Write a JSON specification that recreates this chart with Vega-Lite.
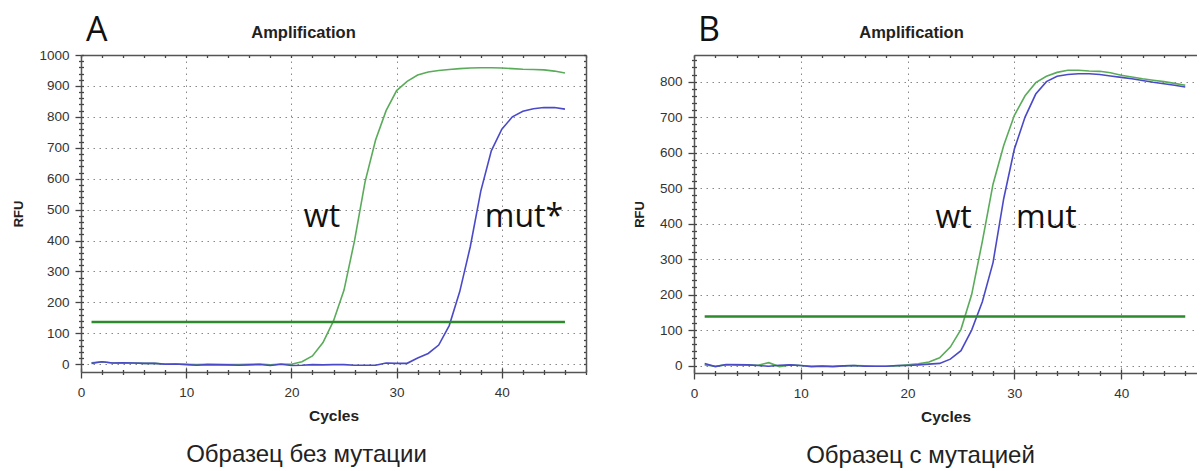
{
  "$schema": "https://vega.github.io/schema/vega-lite/v6.json",
  "background": "white",
  "padding": {"left": 12, "top": 14, "right": 0, "bottom": 0},
  "config": {"view": {"stroke": null}, "font": "Liberation Sans"},
  "spacing": 46,
  "datasets": {
    "curvesA": [
      {"sample":"wt","cycle":1,"rfu":5},{"sample":"wt","cycle":2,"rfu":8},{"sample":"wt","cycle":3,"rfu":4},{"sample":"wt","cycle":4,"rfu":4},{"sample":"wt","cycle":5,"rfu":4},{"sample":"wt","cycle":6,"rfu":3},{"sample":"wt","cycle":7,"rfu":3},{"sample":"wt","cycle":8,"rfu":1},{"sample":"wt","cycle":9,"rfu":1},{"sample":"wt","cycle":10,"rfu":0},
      {"sample":"wt","cycle":11,"rfu":-1},{"sample":"wt","cycle":12,"rfu":0},{"sample":"wt","cycle":13,"rfu":0},{"sample":"wt","cycle":14,"rfu":-1},{"sample":"wt","cycle":15,"rfu":-1},{"sample":"wt","cycle":16,"rfu":0},{"sample":"wt","cycle":17,"rfu":1},{"sample":"wt","cycle":18,"rfu":-2},{"sample":"wt","cycle":19,"rfu":1},{"sample":"wt","cycle":20,"rfu":0},
      {"sample":"wt","cycle":21,"rfu":8},{"sample":"wt","cycle":22,"rfu":27},{"sample":"wt","cycle":23,"rfu":70},{"sample":"wt","cycle":24,"rfu":140},{"sample":"wt","cycle":25,"rfu":240},{"sample":"wt","cycle":26,"rfu":400},{"sample":"wt","cycle":27,"rfu":590},{"sample":"wt","cycle":28,"rfu":725},{"sample":"wt","cycle":29,"rfu":820},{"sample":"wt","cycle":30,"rfu":885},
      {"sample":"wt","cycle":31,"rfu":915},{"sample":"wt","cycle":32,"rfu":935},{"sample":"wt","cycle":33,"rfu":945},{"sample":"wt","cycle":34,"rfu":950},{"sample":"wt","cycle":35,"rfu":953},{"sample":"wt","cycle":36,"rfu":956},{"sample":"wt","cycle":37,"rfu":958},{"sample":"wt","cycle":38,"rfu":959},{"sample":"wt","cycle":39,"rfu":959},{"sample":"wt","cycle":40,"rfu":958},
      {"sample":"wt","cycle":41,"rfu":956},{"sample":"wt","cycle":42,"rfu":954},{"sample":"wt","cycle":43,"rfu":953},{"sample":"wt","cycle":44,"rfu":952},{"sample":"wt","cycle":45,"rfu":948},{"sample":"wt","cycle":46,"rfu":942},
      {"sample":"mut","cycle":1,"rfu":3},{"sample":"mut","cycle":2,"rfu":8},{"sample":"mut","cycle":3,"rfu":4},{"sample":"mut","cycle":4,"rfu":5},{"sample":"mut","cycle":5,"rfu":4},{"sample":"mut","cycle":6,"rfu":3},{"sample":"mut","cycle":7,"rfu":3},{"sample":"mut","cycle":8,"rfu":0},{"sample":"mut","cycle":9,"rfu":1},{"sample":"mut","cycle":10,"rfu":-1},
      {"sample":"mut","cycle":11,"rfu":-3},{"sample":"mut","cycle":12,"rfu":-1},{"sample":"mut","cycle":13,"rfu":-2},{"sample":"mut","cycle":14,"rfu":-2},{"sample":"mut","cycle":15,"rfu":-3},{"sample":"mut","cycle":16,"rfu":-2},{"sample":"mut","cycle":17,"rfu":-1},{"sample":"mut","cycle":18,"rfu":-4},{"sample":"mut","cycle":19,"rfu":0},{"sample":"mut","cycle":20,"rfu":-4},
      {"sample":"mut","cycle":21,"rfu":-3},{"sample":"mut","cycle":22,"rfu":-1},{"sample":"mut","cycle":23,"rfu":-2},{"sample":"mut","cycle":24,"rfu":-1},{"sample":"mut","cycle":25,"rfu":-1},{"sample":"mut","cycle":26,"rfu":-3},{"sample":"mut","cycle":27,"rfu":-3},{"sample":"mut","cycle":28,"rfu":-3},{"sample":"mut","cycle":29,"rfu":4},{"sample":"mut","cycle":30,"rfu":3},
      {"sample":"mut","cycle":31,"rfu":3},{"sample":"mut","cycle":32,"rfu":20},{"sample":"mut","cycle":33,"rfu":35},{"sample":"mut","cycle":34,"rfu":62},{"sample":"mut","cycle":35,"rfu":125},{"sample":"mut","cycle":36,"rfu":235},{"sample":"mut","cycle":37,"rfu":380},{"sample":"mut","cycle":38,"rfu":560},{"sample":"mut","cycle":39,"rfu":690},{"sample":"mut","cycle":40,"rfu":760},
      {"sample":"mut","cycle":41,"rfu":800},{"sample":"mut","cycle":42,"rfu":818},{"sample":"mut","cycle":43,"rfu":826},{"sample":"mut","cycle":44,"rfu":830},{"sample":"mut","cycle":45,"rfu":830},{"sample":"mut","cycle":46,"rfu":825}
    ],
    "curvesB": [
      {"sample":"wt","cycle":1,"rfu":2},{"sample":"wt","cycle":2,"rfu":-2},{"sample":"wt","cycle":3,"rfu":2},{"sample":"wt","cycle":4,"rfu":3},{"sample":"wt","cycle":5,"rfu":2},{"sample":"wt","cycle":6,"rfu":1},{"sample":"wt","cycle":7,"rfu":8},{"sample":"wt","cycle":8,"rfu":-3},{"sample":"wt","cycle":9,"rfu":2},{"sample":"wt","cycle":10,"rfu":0},
      {"sample":"wt","cycle":11,"rfu":-2},{"sample":"wt","cycle":12,"rfu":-1},{"sample":"wt","cycle":13,"rfu":-2},{"sample":"wt","cycle":14,"rfu":-1},{"sample":"wt","cycle":15,"rfu":0},{"sample":"wt","cycle":16,"rfu":-1},{"sample":"wt","cycle":17,"rfu":-2},{"sample":"wt","cycle":18,"rfu":-2},{"sample":"wt","cycle":19,"rfu":-1},{"sample":"wt","cycle":20,"rfu":2},
      {"sample":"wt","cycle":21,"rfu":5},{"sample":"wt","cycle":22,"rfu":10},{"sample":"wt","cycle":23,"rfu":22},{"sample":"wt","cycle":24,"rfu":52},{"sample":"wt","cycle":25,"rfu":102},{"sample":"wt","cycle":26,"rfu":200},{"sample":"wt","cycle":27,"rfu":350},{"sample":"wt","cycle":28,"rfu":511},{"sample":"wt","cycle":29,"rfu":620},{"sample":"wt","cycle":30,"rfu":705},
      {"sample":"wt","cycle":31,"rfu":760},{"sample":"wt","cycle":32,"rfu":797},{"sample":"wt","cycle":33,"rfu":815},{"sample":"wt","cycle":34,"rfu":826},{"sample":"wt","cycle":35,"rfu":832},{"sample":"wt","cycle":36,"rfu":832},{"sample":"wt","cycle":37,"rfu":830},{"sample":"wt","cycle":38,"rfu":829},{"sample":"wt","cycle":39,"rfu":825},{"sample":"wt","cycle":40,"rfu":818},
      {"sample":"wt","cycle":41,"rfu":813},{"sample":"wt","cycle":42,"rfu":808},{"sample":"wt","cycle":43,"rfu":804},{"sample":"wt","cycle":44,"rfu":800},{"sample":"wt","cycle":45,"rfu":795},{"sample":"wt","cycle":46,"rfu":790},
      {"sample":"mut","cycle":1,"rfu":6},{"sample":"mut","cycle":2,"rfu":-3},{"sample":"mut","cycle":3,"rfu":3},{"sample":"mut","cycle":4,"rfu":2},{"sample":"mut","cycle":5,"rfu":2},{"sample":"mut","cycle":6,"rfu":0},{"sample":"mut","cycle":7,"rfu":-2},{"sample":"mut","cycle":8,"rfu":1},{"sample":"mut","cycle":9,"rfu":2},{"sample":"mut","cycle":10,"rfu":0},
      {"sample":"mut","cycle":11,"rfu":-3},{"sample":"mut","cycle":12,"rfu":-2},{"sample":"mut","cycle":13,"rfu":-3},{"sample":"mut","cycle":14,"rfu":-1},{"sample":"mut","cycle":15,"rfu":0},{"sample":"mut","cycle":16,"rfu":-2},{"sample":"mut","cycle":17,"rfu":-2},{"sample":"mut","cycle":18,"rfu":-2},{"sample":"mut","cycle":19,"rfu":0},{"sample":"mut","cycle":20,"rfu":0},
      {"sample":"mut","cycle":21,"rfu":2},{"sample":"mut","cycle":22,"rfu":4},{"sample":"mut","cycle":23,"rfu":6},{"sample":"mut","cycle":24,"rfu":18},{"sample":"mut","cycle":25,"rfu":42},{"sample":"mut","cycle":26,"rfu":100},{"sample":"mut","cycle":27,"rfu":180},{"sample":"mut","cycle":28,"rfu":290},{"sample":"mut","cycle":29,"rfu":470},{"sample":"mut","cycle":30,"rfu":610},
      {"sample":"mut","cycle":31,"rfu":700},{"sample":"mut","cycle":32,"rfu":765},{"sample":"mut","cycle":33,"rfu":800},{"sample":"mut","cycle":34,"rfu":815},{"sample":"mut","cycle":35,"rfu":820},{"sample":"mut","cycle":36,"rfu":822},{"sample":"mut","cycle":37,"rfu":822},{"sample":"mut","cycle":38,"rfu":820},{"sample":"mut","cycle":39,"rfu":816},{"sample":"mut","cycle":40,"rfu":812},
      {"sample":"mut","cycle":41,"rfu":808},{"sample":"mut","cycle":42,"rfu":803},{"sample":"mut","cycle":43,"rfu":798},{"sample":"mut","cycle":44,"rfu":794},{"sample":"mut","cycle":45,"rfu":790},{"sample":"mut","cycle":46,"rfu":785}
    ],
    "thrA": [{"start": 1, "end": 46, "threshold": 137}],
    "thrB": [{"start": 1, "end": 46, "threshold": 138}],
    "labelsA": [{"label": "wt", "x": 22.9, "y": 475}, {"label": "mut*", "x": 42.1, "y": 475}],
    "labelsB": [{"label": "wt", "x": 24.3, "y": 416}, {"label": "mut", "x": 33.0, "y": 416}]
  },
  "hconcat": [
    {
      "width": 505,
      "height": 317,
      "title": {"text": "A", "anchor": "start", "frame": "group", "font": "Open Sans", "fontSize": 34, "fontWeight": "normal", "color": "#111", "dx": 5, "dy": 24, "offset": 0},
      "resolve": {"axis": {"x": "independent", "y": "independent"}},
      "layer": [
        {
          "data": {"name": "curvesA"},
          "mark": {"type": "line", "strokeWidth": 1.6, "clip": true},
          "encoding": {
            "x": {"field": "cycle", "type": "quantitative", "scale": {"domain": [0, 48], "nice": false, "zero": false},
              "axis": {"orient": "bottom", "values": [0,2,4,6,8,10,12,14,16,18,20,22,24,26,28,30,32,34,36,38,40,42,44,46,48],
                "domain": true, "domainColor": "#555", "domainWidth": 1.5,
                "tickColor": "#444", "tickWidth": 1.3,
                "tickSize": {"condition": {"test": "datum.value % 10 === 0", "value": 6}, "value": 2.5},
                "format": "d", "labelExpr": "datum.value % 10 === 0 ? datum.label : ''", "labelFlush": false, "labelOverlap": false,
                "labelFont": "Liberation Sans", "labelFontSize": 13.5, "labelColor": "#333", "labelPadding": 7,
                "grid": true, "gridColor": "#888", "gridDash": [1.5, 4.5], "gridWidth": 1,
                "gridOpacity": {"condition": {"test": "datum.value % 10 === 0 && datum.value > 0 && datum.value < 48", "value": 1}, "value": 0},
                "title": "Cycles", "titleFont": "Liberation Sans", "titleFontSize": 15.5, "titleFontWeight": "bold", "titleColor": "#222", "titlePadding": 10}},
            "y": {"field": "rfu", "type": "quantitative", "scale": {"domain": [-25, 1000], "nice": false, "zero": false},
              "axis": {"orient": "left", "values": [0,20,40,60,80,100,120,140,160,180,200,220,240,260,280,300,320,340,360,380,400,420,440,460,480,500,520,540,560,580,600,620,640,660,680,700,720,740,760,780,800,820,840,860,880,900,920,940,960,980,1000],
                "domain": true, "domainColor": "#555", "domainWidth": 1.5,
                "tickColor": "#444", "tickWidth": 1.3,
                "tickSize": {"condition": {"test": "datum.value % 100 === 0", "value": 6}, "value": 2.5},
                "format": "d", "labelExpr": "datum.value % 100 === 0 ? datum.label : ''", "labelOverlap": false, "labelFlush": false,
                "labelFont": "Liberation Sans", "labelFontSize": 13.5, "labelColor": "#333", "labelPadding": 6,
                "grid": true, "gridColor": "#888", "gridDash": [1.5, 4.5], "gridWidth": 1,
                "gridOpacity": {"condition": {"test": "datum.value % 100 === 0 && datum.value < 1000", "value": 1}, "value": 0},
                "title": "RFU", "titleFont": "Liberation Sans", "titleFontSize": 13, "titleFontWeight": "bold", "titleColor": "#222", "titlePadding": 13}},
            "color": {"field": "sample", "type": "nominal", "scale": {"domain": ["wt", "mut"], "range": ["#5aab5a", "#4a4ac8"]}, "legend": null}
          }
        },
        {
          "data": {"name": "thrA"},
          "mark": {"type": "rule", "color": "#2d8a2d", "strokeWidth": 2.5},
          "encoding": {
            "x": {"field": "start", "type": "quantitative", "scale": {"domain": [0, 48], "nice": false, "zero": false},
              "axis": {"orient": "bottom", "values": [0,2,4,6,8,10,12,14,16,18,20,22,24,26,28,30,32,34,36,38,40,42,44,46,48],
                "domain": false, "labels": false, "grid": false, "tickColor": "#444", "tickWidth": 1.3,
                "tickSize": {"condition": {"test": "datum.value % 10 === 0", "value": -4}, "value": -2.5},
                "title": "Образец без мутации", "titleFont": "Liberation Sans", "titleFontSize": 24, "titleFontWeight": "normal", "titleColor": "#222", "titlePadding": 70, "titleX": 225}},
            "x2": {"field": "end"},
            "y": {"field": "threshold", "type": "quantitative", "scale": {"domain": [-25, 1000], "nice": false, "zero": false},
              "axis": {"orient": "left", "values": [0,20,40,60,80,100,120,140,160,180,200,220,240,260,280,300,320,340,360,380,400,420,440,460,480,500,520,540,560,580,600,620,640,660,680,700,720,740,760,780,800,820,840,860,880,900,920,940,960,980,1000],
                "domain": false, "labels": false, "grid": false, "tickColor": "#444", "tickWidth": 1.3,
                "tickSize": -2.5, "title": null}}
          }
        },
        {
          "data": {"name": "labelsA"},
          "mark": {"type": "text", "font": "Open Sans", "fontSize": 32, "color": "#111"},
          "encoding": {
            "x": {"field": "x", "type": "quantitative", "scale": {"domain": [0, 48], "nice": false, "zero": false},
              "axis": {"orient": "top", "values": [0,2,4,6,8,10,12,14,16,18,20,22,24,26,28,30,32,34,36,38,40,42,44,46,48],
                "domain": true, "domainColor": "#555", "domainWidth": 1.5, "labels": false, "grid": false,
                "tickColor": "#444", "tickWidth": 1.3, "tickSize": -2.5,
                "title": "Amplification", "titleFont": "Liberation Sans", "titleFontSize": 16.5, "titleFontWeight": "bold", "titleColor": "#222", "titlePadding": 14, "titleX": 222}},
            "y": {"field": "y", "type": "quantitative", "scale": {"domain": [-25, 1000], "nice": false, "zero": false},
              "axis": {"orient": "right", "values": [0,20,40,60,80,100,120,140,160,180,200,220,240,260,280,300,320,340,360,380,400,420,440,460,480,500,520,540,560,580,600,620,640,660,680,700,720,740,760,780,800,820,840,860,880,900,920,940,960,980,1000],
                "domain": true, "domainColor": "#555", "domainWidth": 1.5, "labels": false, "grid": false,
                "tickColor": "#444", "tickWidth": 1.3, "tickSize": -2.5, "title": null}},
            "text": {"field": "label"}
          }
        }
      ]
    },
    {
      "width": 503,
      "height": 318,
      "title": {"text": "B", "anchor": "start", "frame": "group", "font": "Open Sans", "fontSize": 34, "fontWeight": "normal", "color": "#111", "dx": 4, "dy": 24, "offset": 0},
      "resolve": {"axis": {"x": "independent", "y": "independent"}},
      "layer": [
        {
          "data": {"name": "curvesB"},
          "mark": {"type": "line", "strokeWidth": 1.6, "clip": true},
          "encoding": {
            "x": {"field": "cycle", "type": "quantitative", "scale": {"domain": [0, 47.1], "nice": false, "zero": false},
              "axis": {"orient": "bottom", "values": [0,2,4,6,8,10,12,14,16,18,20,22,24,26,28,30,32,34,36,38,40,42,44,46],
                "domain": true, "domainColor": "#555", "domainWidth": 1.5,
                "tickColor": "#444", "tickWidth": 1.3,
                "tickSize": {"condition": {"test": "datum.value % 10 === 0", "value": 6}, "value": 2.5},
                "format": "d", "labelExpr": "datum.value % 10 === 0 ? datum.label : ''", "labelFlush": false, "labelOverlap": false,
                "labelFont": "Liberation Sans", "labelFontSize": 13.5, "labelColor": "#333", "labelPadding": 7,
                "grid": true, "gridColor": "#888", "gridDash": [1.5, 4.5], "gridWidth": 1,
                "gridOpacity": {"condition": {"test": "datum.value % 10 === 0 && datum.value > 0", "value": 1}, "value": 0},
                "title": "Cycles", "titleFont": "Liberation Sans", "titleFontSize": 15.5, "titleFontWeight": "bold", "titleColor": "#222", "titlePadding": 10}},
            "y": {"field": "rfu", "type": "quantitative", "scale": {"domain": [-21, 875], "nice": false, "zero": false},
              "axis": {"orient": "left", "values": [0,20,40,60,80,100,120,140,160,180,200,220,240,260,280,300,320,340,360,380,400,420,440,460,480,500,520,540,560,580,600,620,640,660,680,700,720,740,760,780,800,820,840,860],
                "domain": true, "domainColor": "#555", "domainWidth": 1.5,
                "tickColor": "#444", "tickWidth": 1.3,
                "tickSize": {"condition": {"test": "datum.value % 100 === 0", "value": 6}, "value": 2.5},
                "format": "d", "labelExpr": "datum.value % 100 === 0 ? datum.label : ''", "labelOverlap": false, "labelFlush": false,
                "labelFont": "Liberation Sans", "labelFontSize": 13.5, "labelColor": "#333", "labelPadding": 6,
                "grid": true, "gridColor": "#888", "gridDash": [1.5, 4.5], "gridWidth": 1,
                "gridOpacity": {"condition": {"test": "datum.value % 100 === 0", "value": 1}, "value": 0},
                "title": "RFU", "titleFont": "Liberation Sans", "titleFontSize": 13, "titleFontWeight": "bold", "titleColor": "#222", "titlePadding": 13}},
            "color": {"field": "sample", "type": "nominal", "scale": {"domain": ["wt", "mut"], "range": ["#5aab5a", "#4a4ac8"]}, "legend": null}
          }
        },
        {
          "data": {"name": "thrB"},
          "mark": {"type": "rule", "color": "#2d8a2d", "strokeWidth": 2.5},
          "encoding": {
            "x": {"field": "start", "type": "quantitative", "scale": {"domain": [0, 47.1], "nice": false, "zero": false},
              "axis": {"orient": "bottom", "values": [0,2,4,6,8,10,12,14,16,18,20,22,24,26,28,30,32,34,36,38,40,42,44,46],
                "domain": false, "labels": false, "grid": false, "tickColor": "#444", "tickWidth": 1.3,
                "tickSize": {"condition": {"test": "datum.value % 10 === 0", "value": -4}, "value": -2.5},
                "title": "Образец с мутацией", "titleFont": "Liberation Sans", "titleFontSize": 24, "titleFontWeight": "normal", "titleColor": "#222", "titlePadding": 70, "titleX": 226}},
            "x2": {"field": "end"},
            "y": {"field": "threshold", "type": "quantitative", "scale": {"domain": [-21, 875], "nice": false, "zero": false},
              "axis": {"orient": "left", "values": [0,20,40,60,80,100,120,140,160,180,200,220,240,260,280,300,320,340,360,380,400,420,440,460,480,500,520,540,560,580,600,620,640,660,680,700,720,740,760,780,800,820,840,860],
                "domain": false, "labels": false, "grid": false, "tickColor": "#444", "tickWidth": 1.3,
                "tickSize": -2.5, "title": null}}
          }
        },
        {
          "data": {"name": "labelsB"},
          "mark": {"type": "text", "font": "Open Sans", "fontSize": 32, "color": "#111"},
          "encoding": {
            "x": {"field": "x", "type": "quantitative", "scale": {"domain": [0, 47.1], "nice": false, "zero": false},
              "axis": {"orient": "top", "values": [0,2,4,6,8,10,12,14,16,18,20,22,24,26,28,30,32,34,36,38,40,42,44,46],
                "domain": true, "domainColor": "#555", "domainWidth": 1.5, "labels": false, "grid": false,
                "tickColor": "#444", "tickWidth": 1.3, "tickSize": -2.5,
                "title": "Amplification", "titleFont": "Liberation Sans", "titleFontSize": 16.5, "titleFontWeight": "bold", "titleColor": "#222", "titlePadding": 14, "titleX": 217}},
            "y": {"field": "y", "type": "quantitative", "scale": {"domain": [-21, 875], "nice": false, "zero": false}, "axis": null},
            "text": {"field": "label"}
          }
        }
      ]
    }
  ]
}
